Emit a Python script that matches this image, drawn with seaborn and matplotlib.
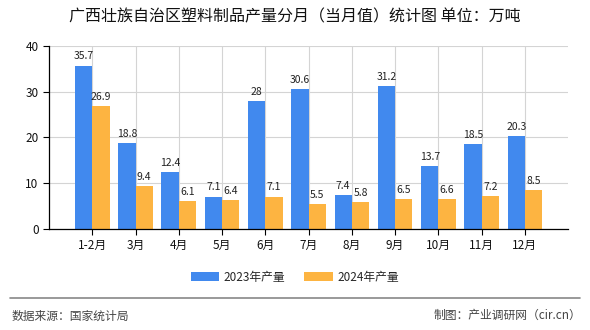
import matplotlib
matplotlib.use("Agg")
import matplotlib.pyplot as plt
import seaborn as sns
import pandas as pd

months = ["1-2月", "3月", "4月", "5月", "6月", "7月", "8月", "9月", "10月", "11月", "12月"]
output_2023 = [35.7, 18.8, 12.4, 7.1, 28, 30.6, 7.4, 31.2, 13.7, 18.5, 20.3]
output_2024 = [26.9, 9.4, 6.1, 6.4, 7.1, 5.5, 5.8, 6.5, 6.6, 7.2, 8.5]
series_names = ["2023年产量", "2024年产量"]
y_ticks = [0, 10, 20, 30, 40]

sns.set_theme(style="white")
plt.rcParams["font.family"] = ["Noto Sans CJK SC", "DejaVu Sans"]

df = pd.DataFrame({
    "month": months * 2,
    "value": output_2023 + output_2024,
    "series": [series_names[0]] * len(months) + [series_names[1]] * len(months),
})

fig = plt.figure(figsize=(5.9, 3.3), dpi=100)
ax = fig.add_axes([0.083, 0.306, 0.88, 0.555])

palette = {series_names[0]: "#4189EE", series_names[1]: "#FDB441"}
sns.barplot(data=df, x="month", y="value", hue="series", palette=palette,
            width=0.8, saturation=1, linewidth=0, edgecolor="none",
            ax=ax, legend=True)

for container in ax.containers:
    ax.bar_label(container, labels=[f"{v:g}" for v in container.datavalues],
                 padding=3, fontsize=7.5, color="#222222")

ax.set_xlim(-1, len(months))
ax.set_ylim(0, 40)
ax.set_yticks(y_ticks)
ax.set_xlabel("")
ax.set_ylabel("")
ax.grid(True, color="#d4d4d4", linewidth=0.8)
ax.set_axisbelow(True)
for side in ["top", "right"]:
    ax.spines[side].set_visible(False)
for side in ["left", "bottom"]:
    ax.spines[side].set_color("#000000")
    ax.spines[side].set_linewidth(0.9)
ax.tick_params(axis="both", which="both", length=4, width=0.8, color="#000000",
               labelsize=8.5, labelcolor="#111111", direction="out", bottom=True, left=True)

handles, labels = ax.get_legend_handles_labels()
ax.legend_.remove()
fig.legend(handles, labels, loc="center", bbox_to_anchor=(0.5, 0.16), ncol=2,
           frameon=False, fontsize=8.5, handlelength=2.4, handleheight=0.8,
           columnspacing=1.6, handletextpad=0.4)

fig.text(0.5, 0.948, "广西壮族自治区塑料制品产量分月（当月值）统计图 单位：万吨",
         ha="center", va="center", fontsize=11.5, color="#111111")

fig.add_artist(plt.Line2D([0.017, 0.983], [0.097, 0.097], color="#888888", linewidth=1.2))
fig.text(0.02, 0.043, "数据来源：国家统计局", ha="left", va="center", fontsize=8.5, color="#444444")
fig.text(0.985, 0.043, "制图：产业调研网（cir.cn）", ha="right", va="center", fontsize=8.5, color="#444444")

fig.savefig("out.png", dpi=100)
